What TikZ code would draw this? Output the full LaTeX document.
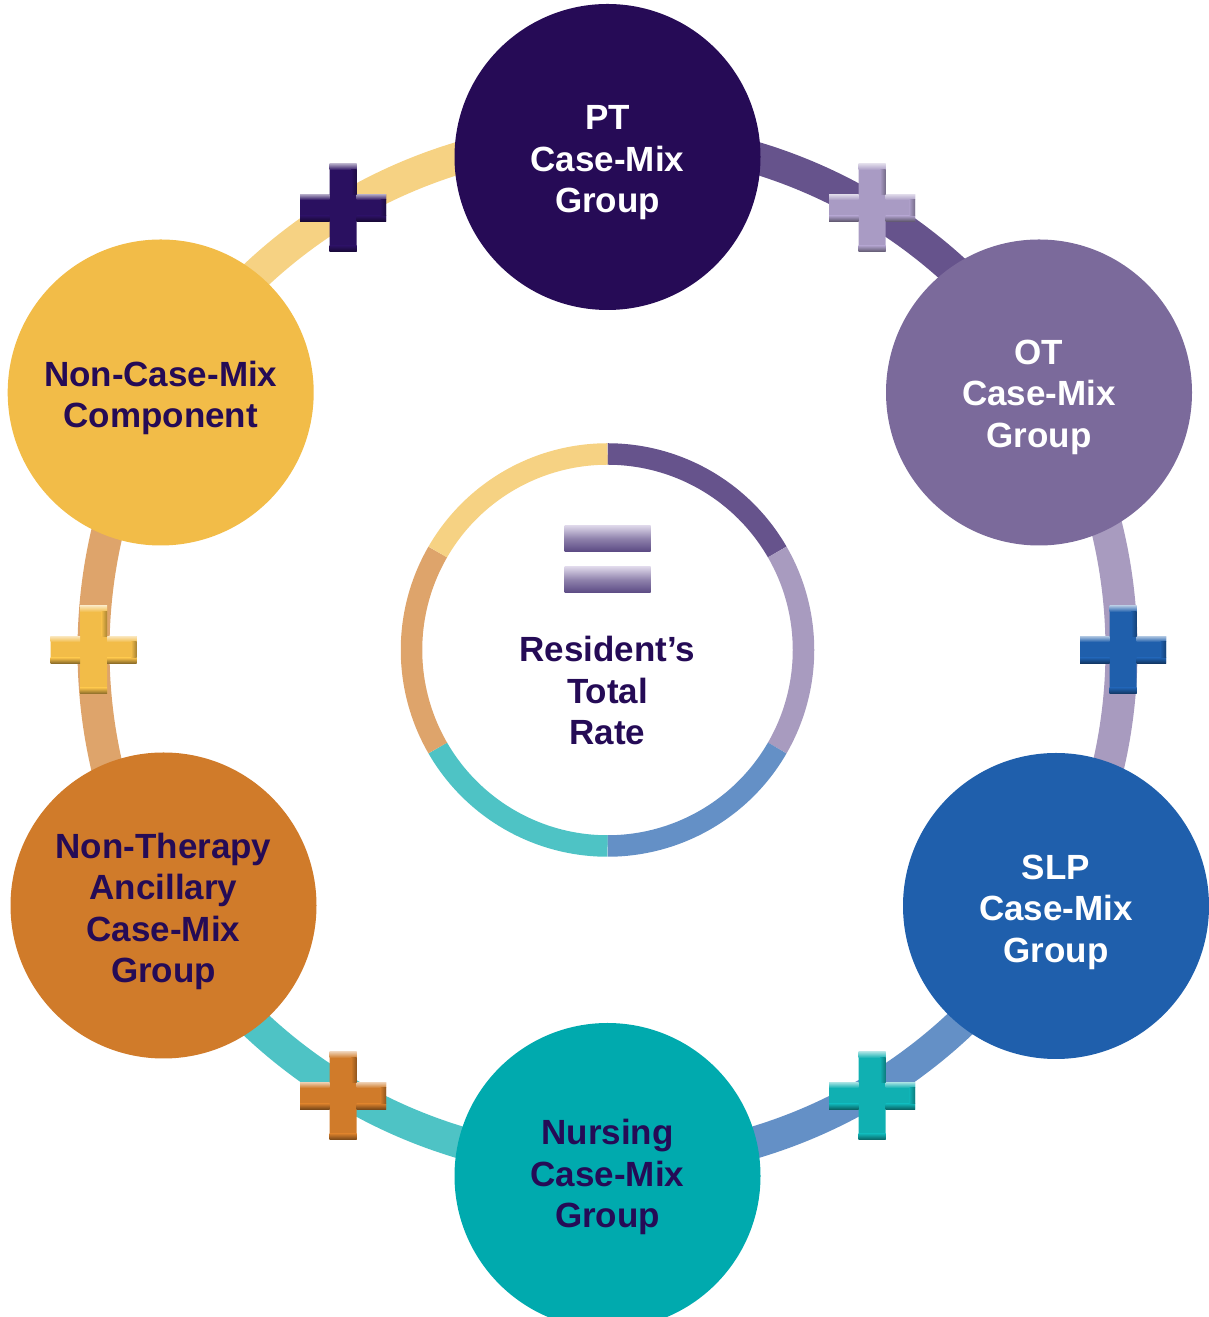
\documentclass[tikz,border=0pt]{standalone}
\usepackage{fontspec}
\setmainfont{Liberation Sans}

\definecolor{ptcol}{HTML}{260B56}
\definecolor{otcol}{HTML}{7B6A9B}
\definecolor{slpcol}{HTML}{1F5FAC}
\definecolor{nurcol}{HTML}{00AAAE}
\definecolor{ntacol}{HTML}{D07B2A}
\definecolor{ncmcol}{HTML}{F2BC48}
\definecolor{textdark}{HTML}{250B56}
\definecolor{ringpt}{HTML}{66538C}
\definecolor{ringot}{HTML}{A89BBF}
\definecolor{ringslp}{HTML}{6490C6}
\definecolor{ringnur}{HTML}{4EC3C5}
\definecolor{ringnta}{HTML}{DEA46B}
\definecolor{ringncm}{HTML}{F6D283}
\definecolor{pluspt}{HTML}{2A1060}
\definecolor{plusot}{HTML}{A99BC4}
\definecolor{plusnur}{HTML}{10B0B2}
\definecolor{eqlight}{HTML}{DCD5E8}
\definecolor{eqdark}{HTML}{5A4983}

% bevelled plus sign: #1 centre, #2 colour
\newcommand\plusmark[2]{%
  \begin{scope}[shift={#1}]
    \fill[#2] (-13.5,-44) rectangle (13.5,44) (-43,-13.5) rectangle (43,13.5);
    \shade[top color=#2!40!white,bottom color=#2] (-43,8) rectangle (-13.5,13.5);
    \shade[top color=#2!40!white,bottom color=#2] (13.5,8) rectangle (43,13.5);
    \shade[top color=#2!40!white,bottom color=#2] (-13.5,38) rectangle (13.5,44);
    \shade[top color=#2,bottom color=#2!55!black] (-43,-13.5) rectangle (-13.5,-8);
    \shade[top color=#2,bottom color=#2!55!black] (13.5,-13.5) rectangle (43,-8);
    \shade[top color=#2,bottom color=#2!55!black] (-13.5,-44) rectangle (13.5,-38);
    \shade[left color=#2,right color=#2!70!black] (8,13.5) rectangle (13.5,38);
    \shade[left color=#2,right color=#2!70!black] (37.5,-8) rectangle (43,8);
  \end{scope}}

\begin{document}
\begin{tikzpicture}[x=1pt,y=1pt]
      \tikzset{mixgroup/.style={circle,minimum size=306pt,inner sep=0pt},
               grouptext/.style={align=center,inner sep=0pt,font=\bfseries\fontsize{35}{41.5}\selectfont},
               eqbar/.style={rectangle,minimum width=86pt,minimum height=26pt,inner sep=0pt,
                 top color=eqlight,bottom color=eqdark,middle color=eqdark!60!eqlight}}
      \useasboundingbox (0,0) rectangle (1209,1317);
      \coordinate (mid) at (607.5,667);

      % outer ring
      \foreach \a/\b/\c in {90/30/ringpt,30/-30/ringot,-30/-90/ringslp,
                            -90/-150/ringnur,-150/-210/ringnta,150/90/ringncm}
        \draw[\c,line width=32pt] ([shift={(\a:514)}]mid) arc[start angle=\a,end angle=\b,radius=514];

      % inner ring
      \foreach \a/\b/\c in {90/30/ringpt,30/-30/ringot,-30/-90/ringslp,
                            -90/-150/ringnur,-150/-210/ringnta,150/90/ringncm}
        \draw[\c,line width=21.5pt] ([shift={(\a:196)}]mid) arc[start angle=\a,end angle=\b,radius=196];

      \plusmark{(343,1109)}{pluspt}
      \plusmark{(872,1109)}{plusot}
      \plusmark{(1123,667)}{slpcol}
      \plusmark{(872,221)}{plusnur}
      \plusmark{(343,221)}{ntacol}
      \plusmark{(93.5,667)}{ncmcol}

      \node[mixgroup,fill=ptcol] (pt) at (607.5,1160) {};
      \node[mixgroup,fill=otcol] (ot) at (1039,924.5) {};
      \node[mixgroup,fill=slpcol] (slp) at (1056,411) {};
      \node[mixgroup,fill=nurcol] (nur) at (607.5,141) {};
      \node[mixgroup,fill=ntacol] (nta) at (163.5,411.5) {};
      \node[mixgroup,fill=ncmcol] (ncm) at (160.7,924.5) {};

      \node[grouptext,text=white] (pttext) at ([yshift=-6pt]pt) {PT\\Case-Mix\\Group};
      \node[grouptext,text=white] (ottext) at ([yshift=-4.5pt]ot) {OT\\Case-Mix\\Group};
      \node[grouptext,text=white] (slptext) at ([yshift=-6pt]slp) {SLP\\Case-Mix\\Group};
      \node[grouptext,text=textdark] (nurtext) at ([yshift=-1pt]nur) {Nursing\\Case-Mix\\Group};
      \node[grouptext,text=textdark] (ntatext) at ([yshift=-6pt]nta) {Non-Therapy\\Ancillary\\Case-Mix\\Group};
      \node[grouptext,text=textdark] (ncmtext) at ([yshift=-5.5pt]ncm) {Non-Case-Mix\\Component};

      \node[eqbar] (eqtop) at (607.5,778.3) {};
      \node[eqbar] (eqbot) at (607.5,737) {};
      \node[grouptext,text=textdark] (rate) at (607.5,626.5) {Resident’s\\Total\\Rate};
\end{tikzpicture}
\end{document}
